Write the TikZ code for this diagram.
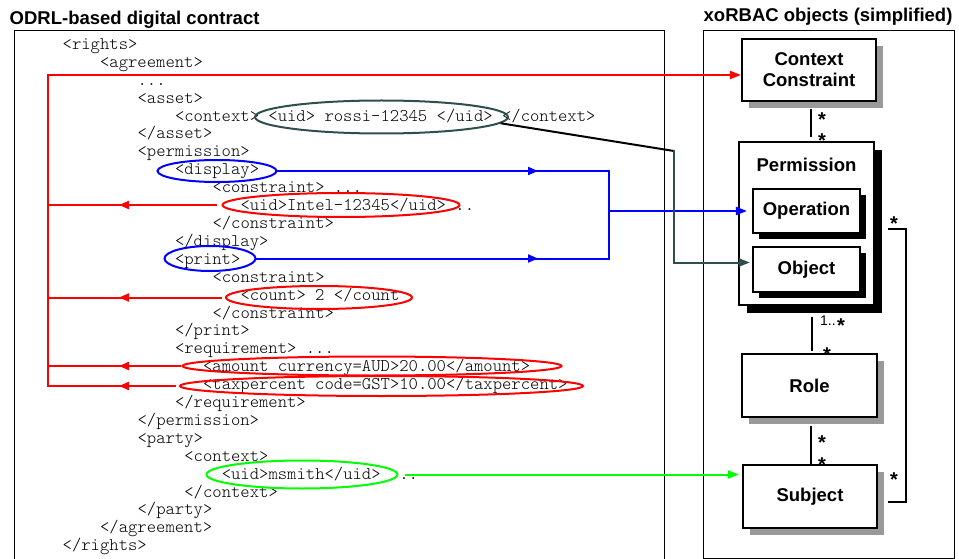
\documentclass[tikz,border=0pt]{standalone}
\usepackage{fontspec}
\setmainfont{Liberation Sans}
\newfontfamily\codefont{lmmonolt10-regular}[Extension=.otf]
\usetikzlibrary{arrows.meta,shapes.geometric,shadows,decorations.markings}
\definecolor{slate}{RGB}{47,79,79}
\definecolor{shadowgray}{RGB}{153,153,153}

\begin{document}
\begin{tikzpicture}[x=1pt,y=-1pt,
    code/.style={anchor=base west,inner sep=0pt,font=\codefont\fontsize{17.8}{18}\selectfont},
    title/.style={anchor=base west,inner sep=0pt,font=\bfseries\fontsize{18.5}{21}\selectfont},
    lbl/.style={inner sep=0pt,font=\bfseries\fontsize{18.5}{21}\selectfont},
    oval/.style={draw=#1,ellipse,line width=2pt,inner sep=0pt},
    umlbox/.style={draw,line width=2.2pt,fill=white,inner sep=0pt,align=center,
      font=\bfseries\fontsize{18.5}{21}\selectfont},
    grayshadow/.style={drop shadow={shadow xshift=7pt,shadow yshift=-7pt,fill=shadowgray,opacity=1}},
    blackshadow/.style={drop shadow={shadow xshift=#1,shadow yshift=-#1,fill=black,opacity=1}},
    star/.style={anchor=base,inner sep=0pt,font=\bfseries\fontsize{20}{20}\selectfont},
    conn/.style={line width=2pt,line cap=rect},
    assoc/.style={line width=2pt},
    tip/.style={-{Triangle[length=11pt,width=8pt]}},
    midarrow/.style={postaction={decorate},decoration={markings,
      mark=at position -71pt with {\arrow{Triangle[length=10pt,width=8pt]}}}}]
  \useasboundingbox (0,0) rectangle (959,559);

  % frames and titles
  \draw[line width=1pt] (14,559) -- (14,31) -- (664,31) -- (664,559);
  \draw[line width=1pt] (703,31) rectangle (954,558);
  \node[title] (odrl) at (9.5,25) {ODRL-based digital contract};
  \node[title] (xorbac) at (703.5,22) {xoRBAC objects (simplified)};

  % the contract
  \node[code] (rights) at (62.5,49.5) {<rights>};
  \node[code] (agree) at (99.9,67.4) {<agreement>};
  \node[code] (dots) at (137.4,85.3) {...};
  \node[code] (asset) at (137.4,103.2) {<asset>};
  \node[code] (assetctx) at (174.8,121.1) {<context> <uid> rossi-12345 </uid> </context>};
  \node[code] (assetend) at (137.4,139) {</asset>};
  \node[code] (permtag) at (137.4,156.9) {<permission>};
  \node[code] (disptag) at (174.8,174.8) {<display>};
  \node[code] (dispcon) at (212.3,192.7) {<constraint> ...};
  \node[code] (intelid) at (240.3,210.6) {<uid>Intel-12345</uid> ..};
  \node[code] (dispconend) at (212.3,228.5) {</constraint>};
  \node[code] (dispend) at (174.8,246.4) {</display>};
  \node[code] (printtag) at (174.8,264.3) {<print>};
  \node[code] (printcon) at (212.3,282.2) {<constraint>};
  \node[code] (count) at (240.3,300.1) {<count> 2 </count};
  \node[code] (printconend) at (212.3,318) {</constraint>};
  \node[code] (printend) at (174.8,335.9) {</print>};
  \node[code] (req) at (174.8,353.8) {<requirement> ...};
  \node[code] (amount) at (202.9,371.7) {<amount currency=AUD>20.00</amount>};
  \node[code] (taxpct) at (202.9,389.6) {<taxpercent code=GST>10.00</taxpercent>};
  \node[code] (reqend) at (174.8,407.5) {</requirement>};
  \node[code] (permend) at (137.4,425.4) {</permission>};
  \node[code] (party) at (137.4,443.3) {<party>};
  \node[code] (partyctx) at (184.2,461.2) {<context>};
  \node[code] (msmithid) at (221.6,479.1) {<uid>msmith</uid>\ \ ..};
  \node[code] (partyctxend) at (184.2,497) {</context>};
  \node[code] (partyend) at (137.4,514.9) {</party>};
  \node[code] (agreeend) at (99.9,532.8) {</agreement>};
  \node[code] (rightsend) at (62.5,550.7) {</rights>};

  % marked parts
  \node[oval=slate,minimum width=253,minimum height=33] (rossi) at (381.5,117) {};
  \node[oval=blue,minimum width=119,minimum height=22] (disp) at (217,171) {};
  \node[oval=red,minimum width=237,minimum height=24] (intel) at (341,205) {};
  \node[oval=blue,minimum width=91,minimum height=25] (prt) at (210,258.5) {};
  \node[oval=red,minimum width=186,minimum height=23] (cnt) at (319,297.5) {};
  \node[oval=red,minimum width=379,minimum height=19] (amt) at (372,366) {};
  \node[oval=red,minimum width=403,minimum height=20] (tax) at (381.5,386) {};
  \node[oval=green,minimum width=191,minimum height=28] (msm) at (302,474.5) {};

  % xoRBAC objects
  \node[umlbox,grayshadow,minimum width=134,minimum height=62] (cc) at (809,70) {Context\\Constraint};
  \node[umlbox,blackshadow=8pt,minimum width=135,minimum height=163] (perm) at (806.5,223.5) {};
  \node[lbl] (permlbl) at (806.5,165) {Permission};
  \node[umlbox,blackshadow=6pt,minimum width=107,minimum height=44] (op) at (806.5,211) {Operation};
  \node[umlbox,blackshadow=6pt,minimum width=107,minimum height=45] (obj) at (806.5,269.5) {Object};
  \node[umlbox,grayshadow,minimum width=135,minimum height=63] (role) at (809.5,385.5) {Role};
  \node[umlbox,grayshadow,minimum width=134,minimum height=63] (subj) at (810,496.5) {Subject};

  % associations
  \draw[assoc] ([shift={(2,7)}]cc.south) -- ([shift={(4.5,-4)}]perm.north);
  \draw[assoc] ([shift={(5.5,11)}]perm.south) -- ([shift={(2.5,-2)}]role.north);
  \draw[assoc] ([shift={(1.5,8)}]role.south) -- ([xshift=1pt]subj.north);
  \draw[assoc] ([shift={(13,5.5)}]perm.east) -- ++(18,0) |- ([shift={(10,5.5)}]subj.east);
  \node[star] (s1) at (822,127) {*};
  \node[star] (s2) at (822,147.5) {*};
  \node[anchor=base west,inner sep=0pt,font=\fontsize{14}{14}\selectfont] (one) at (820,325) {1..};
  \node[star] (s3) at (841,332) {*};
  \node[star] (s4) at (827,361) {*};
  \node[star] (s5) at (822,449) {*};
  \node[star] (s6) at (822,471) {*};
  \node[star] (s7) at (894,230) {*};
  \node[star] (s8) at (894,486) {*};

  % red: constraints
  \coordinate (bustop) at (48,75);
  \coordinate (busbot) at (48,386);
  \draw[conn,red,tip] (busbot) -- (bustop) -- (bustop -| cc.west);
  \draw[conn,red,midarrow,shorten <=6pt] (intel.west) -- (intel.west -| bustop);
  \draw[conn,red,midarrow,shorten <=4pt] (cnt.west) -- (cnt.west -| bustop);
  \draw[conn,red,midarrow,shorten <=2pt] (amt.west) -- (amt.west -| bustop);
  \draw[conn,red,midarrow,shorten <=4pt] (tax.west) -- (busbot);

  % blue: operations
  \coordinate (bluex) at (609,0);
  \draw[conn,blue,midarrow] (disp.east) -- (disp.east -| bluex);
  \draw[conn,blue,midarrow] (prt.east) -- (prt.east -| bluex);
  \draw[conn,blue] (disp.east -| bluex) -- (prt.east -| bluex);
  \draw[conn,blue,tip,shorten >=5pt] (op.west -| bluex) -- (op.west);

  % object and subject
  \coordinate (bend) at (674,151);
  \draw[line width=2pt] (rossi.-3) -- (bend);
  \draw[conn,slate,tip,shorten >=2pt] (bend) |- ([yshift=7pt]obj.west);
  \draw[conn,green,tip,shorten <=7pt,shorten >=3pt] (msm.east) -- (msm.east -| subj.west);
\end{tikzpicture}
\end{document}
